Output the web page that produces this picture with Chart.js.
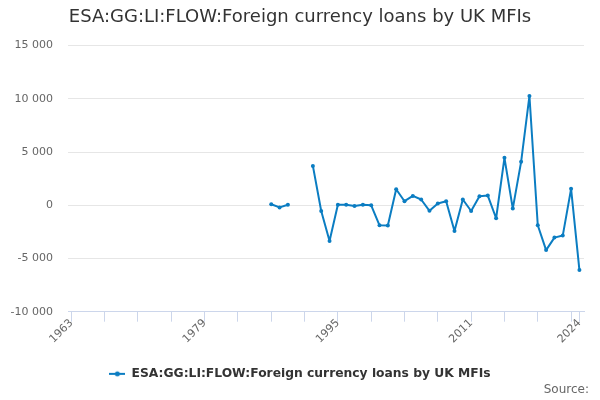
<!DOCTYPE html>
<html><head><meta charset="utf-8">
<script src="https://cdn.jsdelivr.net/npm/chart.js@4"></script>
<style>html,body{margin:0;padding:0;background:#fff}#wrap{width:600px;height:400px;position:relative}</style>
</head><body><div id="wrap"><canvas id="c"></canvas></div>
<script>
const seriesName = 'ESA:GG:LI:FLOW:Foreign currency loans by UK MFIs';
const sourceText = 'Source:';
const years = [1987,1988,1989,1990,1991,1992,1993,1994,1995,1996,1997,1998,1999,2000,2001,2002,2003,2004,2005,2006,2007,2008,2009,2010,2011,2012,2013,2014,2015,2016,2017,2018,2019,2020,2021,2022,2023,2024];
const values = [100,-200,50,null,null,3700,-540,-3360,50,50,-60,50,0,-1880,-1910,1500,380,880,540,-520,160,380,-2420,540,-540,850,910,-1220,4460,-310,4080,10270,-1880,-4210,-3040,-2850,1540,-6090];
const xTickYears = [1963,1967,1971,1975,1979,1983,1987,1991,1995,1999,2003,2007,2011,2015,2019,2023,2024];
const xTickLabels = ['1963','1979','1995','2011','2024'];
const yTicks = [-10000,-5000,0,5000,10000,15000];

const blue = '#0b7dc2';
const FONT = "'DejaVu Sans', sans-serif";

// legend symbol: line with dot
const sym = document.createElement('canvas');
sym.width = 16; sym.height = 8;
(function(){const g=sym.getContext('2d');g.strokeStyle=blue;g.lineWidth=2;g.beginPath();g.moveTo(0,4);g.lineTo(16,4);g.stroke();g.fillStyle=blue;g.beginPath();g.arc(8,4,2.5,0,Math.PI*2);g.fill();})();

function fmt(v){const s=String(Math.abs(v)).replace(/\B(?=(\d{3})+(?!\d))/g,' ');return (v<0?'-':'')+s;}

const sourcePlugin = {
  id: 'sourceText',
  afterDraw(chart) {
    const c = chart.ctx;
    c.save();
    c.font = "12px 'DejaVu Sans', sans-serif";
    c.fillStyle = '#666666';
    c.textAlign = 'right';
    c.textBaseline = 'middle';
    c.fillText(sourceText, 589, 390);
    c.restore();
  }
};

new Chart(document.getElementById('c'), {
  type: 'line',
  data: {
    datasets: [{
      label: seriesName,
      data: years.map((y,i)=>({x:y,y:values[i]})),
      borderColor: blue,
      backgroundColor: blue,
      borderWidth: 2,
      borderJoinStyle: 'round',
      borderCapStyle: 'round',
      pointRadius: 2,
      pointHoverRadius: 3,
      pointBackgroundColor: blue,
      pointBorderWidth: 0,
      pointStyle: 'circle',
      tension: 0,
      spanGaps: false
    }]
  },
  plugins: [sourcePlugin],
  options: {
    responsive: true,
    maintainAspectRatio: false,
    animation: false,
    devicePixelRatio: 1,
    layout: { padding: { left: 0, right: 0, top: 0, bottom: 10 } },
    plugins: {
      title: {
        display: true,
        text: seriesName,
        align: 'center',
        color: '#333333',
        font: { family: FONT, size: 18, weight: 'normal' },
        padding: { top: 7, bottom: 17 }
      },
      legend: {
        display: true,
        position: 'bottom',
        labels: {
          color: '#333333',
          font: { family: FONT, size: 12.3, weight: 'bold' },
          usePointStyle: true,
          pointStyle: sym,
          pointStyleWidth: 16,
          padding: 0
        }
      },
      tooltip: { enabled: false }
    },
    scales: {
      x: {
        type: 'linear',
        min: 1962.6,
        max: 2024.55,
        afterBuildTicks: (s) => { s.ticks = xTickYears.map(v=>({value:v})); },
        afterFit: (s) => { s.height = 56; },
        grid: { drawOnChartArea: false, drawTicks: true, tickLength: 10, color: '#ccd6eb', lineWidth: 1 },
        border: { display: true, color: '#ccd6eb', width: 1 },
        ticks: {
          autoSkip: false,
          maxRotation: 45,
          minRotation: 45,
          color: '#666666',
          font: { family: FONT, size: 11 },
          padding: -5,
          callback: (v) => xTickLabels.includes(String(v)) ? String(v) : ''
        }
      },
      y: {
        type: 'linear',
        min: -10000,
        max: 15000,
        afterBuildTicks: (s) => { s.ticks = yTicks.map(v=>({value:v})); },
        afterFit: (s) => { s.width = 68; },
        grid: { color: '#e6e6e6', drawTicks: false, lineWidth: 1 },
        border: { display: false },
        ticks: {
          color: '#666666',
          font: { family: FONT, size: 11 },
          padding: 15,
          callback: (v) => fmt(v)
        }
      },
      yRightSpace: {
        type: 'linear',
        position: 'right',
        display: true,
        min: 0,
        max: 1,
        afterFit: (s) => { s.width = 16; },
        grid: { display: false, drawTicks: false },
        border: { display: false },
        ticks: { display: false }
      }
    }
  }
});
</script>
</body></html>
